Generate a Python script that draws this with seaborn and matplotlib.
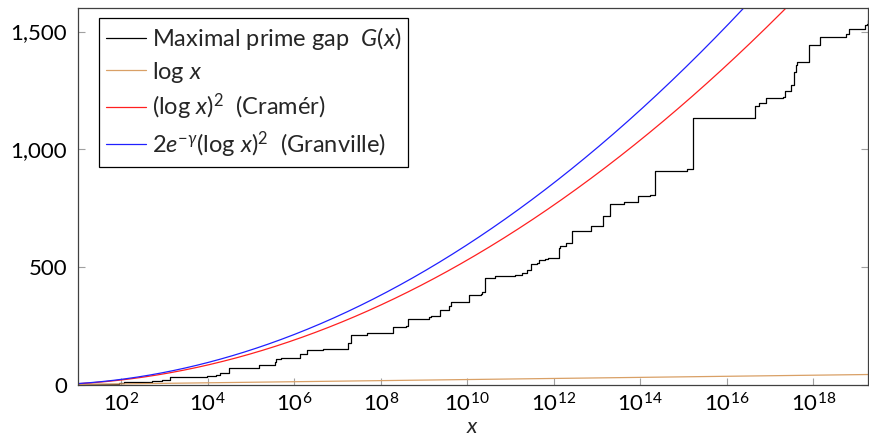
import numpy as np
import pandas as pd
import matplotlib
matplotlib.use("Agg")
import matplotlib.pyplot as plt
import matplotlib.ticker as mticker
import seaborn as sns

# Maximal prime gaps: gap size and the prime where it starts
gaps = [4, 6, 8, 14, 18, 20, 22, 34, 36, 44, 52, 72, 86, 96, 112, 114, 118, 132,
        148, 154, 180, 210, 220, 222, 234, 248, 250, 282, 288, 292, 320, 336, 354,
        382, 384, 394, 456, 464, 468, 474, 486, 490, 500, 514, 516, 532, 534, 540,
        582, 588, 602, 652, 674, 716, 766, 778, 804, 806, 906, 916, 924, 1132, 1184,
        1198, 1220, 1224, 1248, 1272, 1328, 1356, 1370, 1442, 1476, 1488, 1510, 1526,
        1530, 1550]
primes = [7, 23, 89, 113, 523, 887, 1129, 1327, 9551, 15683, 19609, 31397, 155921,
          360653, 370261, 492113, 1349533, 1357201, 2010733, 4652353, 17051707,
          20831323, 47326693, 122164747, 189695659, 191912783, 387096133, 436273009,
          1294268491, 1453168141, 2300942549, 3842610773, 4302407359, 10726904659,
          20678048297, 22367084959, 25056082087, 42652618343, 127976334671,
          182226896239, 241160624143, 297501075799, 303371455241, 304599508537,
          416608695821, 461690510011, 614487453523, 738832927927, 1346294310749,
          1408695493609, 1968188556461, 2614941710599, 7177162611713,
          13829048559701, 19581334192423, 42842283925351, 90874329411493,
          171231342420521, 218209405436543, 1189459969825483, 1686994940955803,
          1693182318746371, 43841547845541059, 55350776431903243, 80873624627234849,
          203986478517455989, 218034721194214273, 305405826521087869,
          352521223451364323, 401429925999153707, 418032645936712127,
          804212830686677669, 1425172824437699411, 5733241593241196731,
          6787988999657777797, 15570628755536096243, 17678654157568189057,
          18361375334787046697]

x_min, x_max = 10.0, 2.0 ** 64
y_min, y_max = 0, 1600
x_ticks = [1e2, 1e4, 1e6, 1e8, 1e10, 1e12, 1e14, 1e16, 1e18]
y_ticks = [0, 500, 1000, 1500]

labels = [r"Maximal prime gap  $G(x)$", r"$\log\,x$",
          r"$(\log\,x)^2$  (Cramér)", r"$2e^{-\gamma}(\log\,x)^2$  (Granville)"]
colors = ["#000000", "#d9a066", "#ff2020", "#2020ff"]

sns.set_theme(style="white")
plt.rcParams["font.family"] = ["Lato", "DejaVu Sans"]
plt.rcParams["mathtext.fontset"] = "custom"
plt.rcParams["mathtext.rm"] = "Lato"
plt.rcParams["mathtext.it"] = "Lato:italic"
plt.rcParams["mathtext.bf"] = "Lato:bold"

fig = plt.figure(figsize=(8.7, 4.43), dpi=100)
ax = fig.add_axes([0.0897, 0.131, 0.908, 0.851])
ax.set_xscale("log")

# step data for G(x)
gx = [float(p) for p in primes] + [x_max]
gy = list(gaps) + [gaps[-1]]
df_g = pd.DataFrame({"x": gx, "y": gy})
sns.lineplot(data=df_g, x="x", y="y", ax=ax, color=colors[0], lw=0.9,
             drawstyle="steps-post", label=labels[0], estimator=None, sort=False)

xs = np.logspace(np.log10(x_min), np.log10(x_max), 600)
L = np.log(xs)
gamma = 0.5772156649015329
df_f = pd.DataFrame({"x": xs, "logx": L, "cramer": L ** 2,
                     "granville": 2 * np.exp(-gamma) * L ** 2})
sns.lineplot(data=df_f, x="x", y="logx", ax=ax, color=colors[1], lw=0.9,
             label=labels[1], estimator=None)
sns.lineplot(data=df_f, x="x", y="cramer", ax=ax, color=colors[2], lw=0.9,
             label=labels[2], estimator=None)
sns.lineplot(data=df_f, x="x", y="granville", ax=ax, color=colors[3], lw=0.9,
             label=labels[3], estimator=None)

ax.set_xlim(x_min, x_max)
ax.set_ylim(y_min, y_max)
ax.set_xticks(x_ticks)
ax.xaxis.set_minor_locator(mticker.NullLocator())
ax.xaxis.set_major_formatter(mticker.FuncFormatter(
    lambda v, p: r"$10^{%d}$" % round(np.log10(v))))
ax.set_yticks(y_ticks)
ax.yaxis.set_major_formatter(mticker.FuncFormatter(lambda v, p: f"{int(v):,}"))

ax.tick_params(axis="both", which="major", direction="in", length=5, width=0.8,
               color="#a0a0a0", labelsize=16, labelcolor="black", pad=5,
               top=False, right=True, bottom=True, left=True)
ax.tick_params(axis="y", pad=8)
for s in ax.spines.values():
    s.set_color("#404040")
    s.set_linewidth(0.9)

ax.set_xlabel(r"$x$", fontsize=16, labelpad=1)
ax.set_ylabel("")

leg = ax.legend(loc="upper left", bbox_to_anchor=(0.02, 0.985), fontsize=17,
                frameon=True, fancybox=False, framealpha=1, edgecolor="black",
                handlelength=1.7, handletextpad=0.25, borderpad=0.3,
                labelspacing=0.3, borderaxespad=0.2)
leg.get_frame().set_linewidth(0.9)

fig.savefig("out.png", dpi=100)
